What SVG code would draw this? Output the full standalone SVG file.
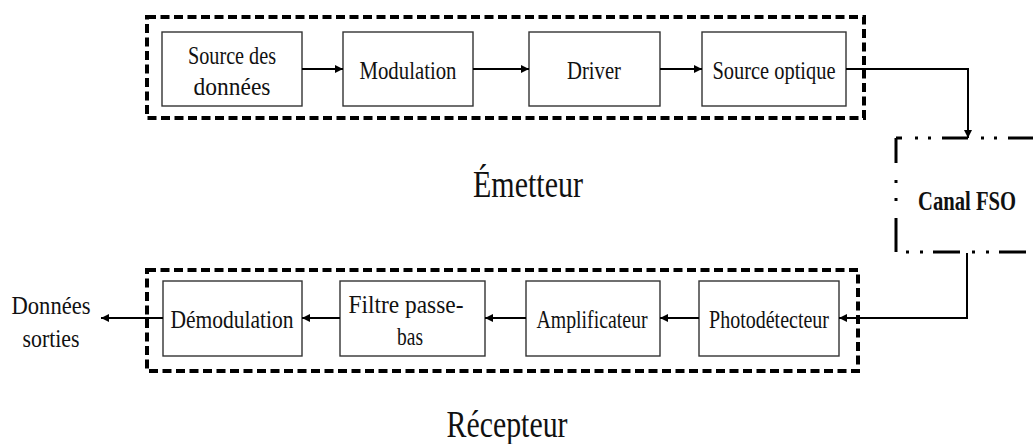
<svg xmlns="http://www.w3.org/2000/svg" width="1033" height="444" viewBox="0 0 1033 444">
<style>
.bg{fill:#fff}
.node{fill:#fff;stroke:#333;stroke-width:1.4}
.grp{fill:none;stroke:#000;stroke-width:4;stroke-dasharray:9 4.5}
text{font-family:"Liberation Serif","DejaVu Serif","Times New Roman",serif;fill:#111;text-anchor:middle}
.t{font-size:25px}
.big{font-size:38px}
.cf{font-size:27px;font-weight:bold}
.c{fill:none;stroke:#000;stroke-width:2}
.ch{fill:none;stroke:#000;stroke-width:3}
</style>
<defs>
<marker id="ah" viewBox="0 0 10 10" refX="10" refY="5" markerWidth="9" markerHeight="8" markerUnits="userSpaceOnUse" orient="auto">
<path d="M0,0 L10,5 L0,10 Z" fill="#000"/>
</marker>
</defs>
<rect class="bg" x="0" y="0" width="1033" height="444"/>

<g id="emetteur-group">
<rect class="grp" x="147" y="17" width="717" height="101"/>
<text class="big" x="528" y="197" textLength="110" lengthAdjust="spacingAndGlyphs">Émetteur</text>
</g>
<g id="recepteur-group">
<rect class="grp" x="147" y="270" width="711" height="101"/>
<text class="big" x="507" y="437" textLength="121" lengthAdjust="spacingAndGlyphs">Récepteur</text>
</g>

<g id="source-donnees">
<rect class="node" x="162" y="32" width="140" height="74"/>
<text class="t" x="232" y="64" textLength="88" lengthAdjust="spacingAndGlyphs">Source des</text>
<text class="t" x="232" y="95" textLength="77" lengthAdjust="spacingAndGlyphs">données</text>
</g>
<g id="modulation">
<rect class="node" x="343" y="32" width="130" height="74"/>
<text class="t" x="408" y="79" textLength="97" lengthAdjust="spacingAndGlyphs">Modulation</text>
</g>
<g id="driver">
<rect class="node" x="529" y="32" width="131" height="74"/>
<text class="t" x="594" y="79" textLength="54" lengthAdjust="spacingAndGlyphs">Driver</text>
</g>
<g id="source-optique">
<rect class="node" x="702" y="32" width="144" height="74"/>
<text class="t" x="774" y="79" textLength="123" lengthAdjust="spacingAndGlyphs">Source optique</text>
</g>

<g id="canal-fso">
<path class="ch" d="M896,138 H1040" stroke-dasharray="26 13 3 10 3 11" stroke-dashoffset="20"/>
<path class="ch" d="M896,138 V252" stroke-dasharray="25 17 3 15 3 17 40"/>
<path class="ch" d="M896,252 H1040" stroke-dasharray="27 12 3 11 3 10" stroke-dashoffset="29"/>
<text class="cf" x="967" y="210" textLength="98" lengthAdjust="spacingAndGlyphs">Canal FSO</text>
</g>

<g id="photodetecteur">
<rect class="node" x="699" y="281" width="140" height="75"/>
<text class="t" x="769" y="328" textLength="120" lengthAdjust="spacingAndGlyphs">Photodétecteur</text>
</g>
<g id="amplificateur">
<rect class="node" x="526" y="281" width="134" height="75"/>
<text class="t" x="592" y="328" textLength="111" lengthAdjust="spacingAndGlyphs">Amplificateur</text>
</g>
<g id="filtre">
<rect class="node" x="340" y="281" width="145" height="75"/>
<text class="t" x="406" y="313" textLength="115" lengthAdjust="spacingAndGlyphs">Filtre passe-</text>
<text class="t" x="410" y="345" textLength="26" lengthAdjust="spacingAndGlyphs">bas</text>
</g>
<g id="demodulation">
<rect class="node" x="163" y="281" width="139" height="75"/>
<text class="t" x="232" y="328" textLength="123" lengthAdjust="spacingAndGlyphs">Démodulation</text>
</g>
<g id="donnees-sorties">
<text class="t" x="51" y="314" textLength="79" lengthAdjust="spacingAndGlyphs">Données</text>
<text class="t" x="51" y="347" textLength="57" lengthAdjust="spacingAndGlyphs">sorties</text>
</g>

<g id="connectors">
<path class="c" d="M302,69 H343" marker-end="url(#ah)"/>
<path class="c" d="M473,69 H529" marker-end="url(#ah)"/>
<path class="c" d="M660,69 H702" marker-end="url(#ah)"/>
<path class="c" d="M846,69 H968 V138" marker-end="url(#ah)"/>
<path class="c" d="M967,253 V318 H839" marker-end="url(#ah)"/>
<path class="c" d="M699,318 H660" marker-end="url(#ah)"/>
<path class="c" d="M526,318 H485" marker-end="url(#ah)"/>
<path class="c" d="M340,318 H302" marker-end="url(#ah)"/>
<path class="c" d="M163,318 H101" marker-end="url(#ah)"/>
</g>
</svg>
